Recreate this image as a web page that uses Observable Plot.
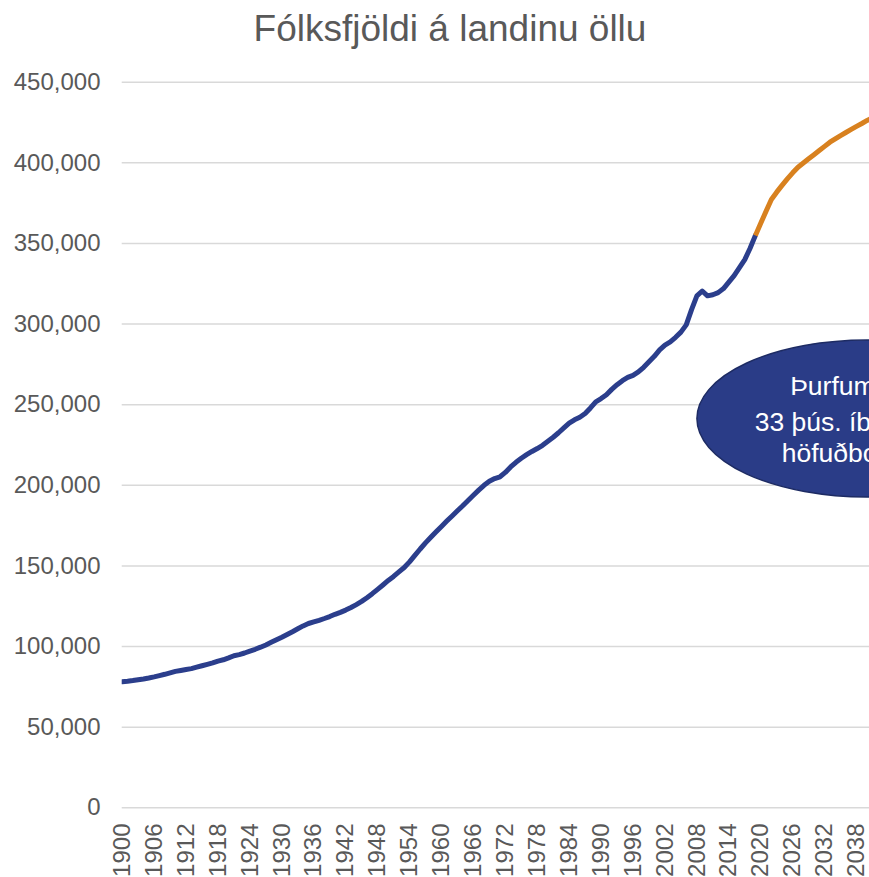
<!DOCTYPE html>
<html><head><meta charset="utf-8">
<script src="https://cdn.jsdelivr.net/npm/d3@7"></script>
<script src="https://cdn.jsdelivr.net/npm/@observablehq/plot@0.6"></script>
<style>
html,body{margin:0;padding:0;background:#fff;overflow:hidden;}
#wrap{position:relative;width:869px;height:877px;overflow:hidden;}
#chart{position:absolute;left:0;top:0;}
#title{position:absolute;left:0;top:10px;width:900px;text-align:center;font-family:"Liberation Sans",Arial,sans-serif;font-size:37px;line-height:37px;color:#595959;z-index:2;}
</style></head><body>
<div id="wrap"><div id="chart"></div><div id="title"></div></div>
<script>
const titleText = "Fólksfjöldi á landinu öllu";
const histStart = 1900;
const histValues = [
  78200, 78500, 78900, 79400, 79900, 80500, 81200, 82000, 82800, 83700,
  84600, 85200, 85800, 86300, 87200, 88100, 89000, 89900, 91000, 91800,
  93000, 94300, 95000, 96000, 97200, 98300, 99600, 101000, 102600, 104200,
  105800, 107500, 109200, 111000, 112800, 114300, 115300, 116300, 117400, 118600,
  120000, 121200, 122600, 124200, 126000, 128000, 130300, 132800, 135500, 138200,
  141000, 143500, 146300, 149000, 152500, 156500, 160500, 164300, 167800, 171200,
  174500, 177800, 181000, 184200, 187300, 190600, 193800, 197000, 200000, 202500,
  204200, 205300, 208000, 211400, 214300, 216800, 219000, 221000, 222800, 224800,
  227300, 229800, 232600, 235600, 238500, 240600, 242200, 244500, 248000, 251800,
  253800, 256200, 259500, 262400, 264900, 266900, 268200, 270300, 273200, 276600,
  280000, 284000, 287000, 289000, 291800, 295000, 299500, 309000, 317500, 320500,
  317500, 318200, 319500, 322000, 326000, 330000, 335000, 340000, 347000, 355000
];
const projStart = 2019;
const projValues = [
  355000, 362500, 370000, 377300, 381800, 386000, 390000, 393800, 397300, 399900,
  402500, 405000, 407600, 410200, 412800, 414900, 416900, 418800, 420700, 422600,
  424400, 426300, 428000
];
const xTicks = [1900,1906,1912,1918,1924,1930,1936,1942,1948,1954,1960,1966,1972,1978,1984,1990,1996,2002,2008,2014,2020,2026,2032,2038];
const yTicks = [0,50000,100000,150000,200000,250000,300000,350000,400000,450000];
const noteLines = ["Þurfum að fá", "33 þús. íbúa til", "höfuðborgarinnar"];
const noteCenter = {year: 2040.1, value: 241100};
const noteRadius = {years: 32, value: 48700};

const hist = histValues.map((v, i) => ({year: histStart + i, value: v}));
const proj = projValues.map((v, i) => ({year: projStart + i, value: v}));

document.getElementById("title").textContent = titleText;

const chart = Plot.plot({
  width: 869,
  height: 877,
  marginLeft: 121.7,
  marginRight: 0,
  marginTop: 81.7,
  marginBottom: 69.7,
  style: {fontFamily: "Liberation Sans, Arial, sans-serif", fontSize: "24px", color: "#595959", background: "white", overflow: "hidden"},
  x: {domain: [1900, 2040.44], ticks: xTicks, tickFormat: d => String(d), tickRotate: -90, tickSize: 0, tickPadding: 15.7, label: null},
  y: {domain: [0, 450000], ticks: yTicks, tickFormat: d3.format(","), tickSize: 0, tickPadding: 21.7, label: null},
  marks: [
    Plot.gridY(yTicks, {stroke: "#d9d9d9", strokeOpacity: 1, strokeWidth: 1.6}),
    Plot.line(hist, {x: "year", y: "value", stroke: "#2B3E8C", strokeWidth: 5, strokeLinecap: "round", strokeLinejoin: "round", clip: true}),
    Plot.line(proj, {x: "year", y: "value", stroke: "#D8811F", strokeWidth: 5, strokeLinecap: "butt", strokeLinejoin: "round", clip: true})
  ]
});
document.getElementById("chart").appendChild(chart);

const sx = chart.scale("x"), sy = chart.scale("y");
const cx = sx.apply(noteCenter.year), cy = sy.apply(noteCenter.value);
const rx = sx.apply(noteCenter.year + noteRadius.years) - cx;
const ry = cy - sy.apply(noteCenter.value + noteRadius.value);
const svg = d3.select(chart);
const g = svg.append("g");
g.append("ellipse").attr("cx", cx).attr("cy", cy).attr("rx", rx).attr("ry", ry)
  .attr("fill", "#2A3C87").attr("stroke", "#1D2B63").attr("stroke-width", 1.5);
const offsets = [{dx: -77, dy: -24}, {dx: -112.5, dy: 12}, {dx: -85.5, dy: 43.3}];
noteLines.forEach((t, i) => {
  g.append("text").attr("x", cx + offsets[i].dx).attr("y", cy + offsets[i].dy)
    .attr("fill", "white").style("font-size", "26.5px").style("font-family", "Liberation Sans, Arial, sans-serif")
    .attr("text-anchor", "start").text(t);
});
</script>
</body></html>
